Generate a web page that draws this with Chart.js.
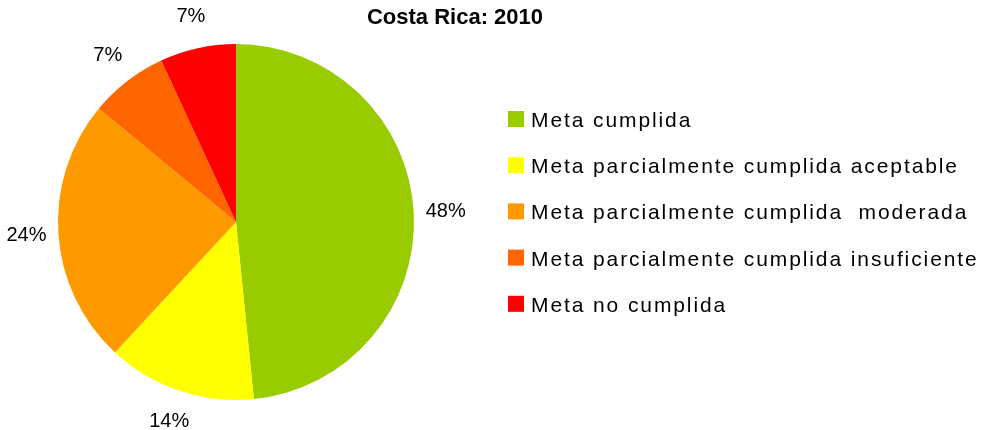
<!DOCTYPE html>
<html>
<head>
<meta charset="utf-8">
<script src="https://cdn.jsdelivr.net/npm/chart.js@4.4.1/dist/chart.umd.min.js"></script>
<style>
  html, body { margin: 0; padding: 0; background: #fff; }
  canvas { display: block; }
</style>
</head>
<body>
<canvas id="chart" width="985" height="430"></canvas>
<script>
const chartTitle = "Costa Rica: 2010";
const categories = [
  "Meta cumplida",
  "Meta parcialmente cumplida aceptable",
  "Meta parcialmente cumplida  moderada",
  "Meta parcialmente cumplida insuficiente",
  "Meta no cumplida",
];
const shares = [48.4, 13.5, 24.1, 7.1, 6.9];
const sliceColors = ["#99cc00", "#ffff00", "#ff9900", "#ff6600", "#ff0000"];

const FONT = "'Liberation Sans', Arial, sans-serif";

// title, outside percent labels and the letter-spaced legend
const decorations = {
  id: "decorations",
  afterDraw(chart) {
    const ctx = chart.ctx;
    const arcs = chart.getDatasetMeta(0).data;

    ctx.save();
    ctx.fillStyle = "#000";
    ctx.font = "bold 22px " + FONT;
    ctx.textAlign = "center";
    ctx.textBaseline = "alphabetic";
    ctx.fillText(chartTitle, 455, 24);

    ctx.font = "20px " + FONT;
    ctx.textBaseline = "middle";
    arcs.forEach((arc, i) => {
      const p = arc.getProps(["x", "y", "startAngle", "endAngle", "outerRadius"], true);
      const mid = (p.startAngle + p.endAngle) / 2;
      const r = p.outerRadius + 32;
      ctx.fillText(Math.round(shares[i]) + "%", p.x + Math.cos(mid) * r, p.y + Math.sin(mid) * r);
    });

    ctx.font = "21px " + FONT;
    ctx.textAlign = "left";
    ctx.textBaseline = "alphabetic";
    ctx.letterSpacing = "1.9px";
    categories.forEach((label, i) => {
      const cy = 119 + i * 46.2;
      ctx.fillStyle = sliceColors[i];
      ctx.fillRect(508, cy - 8, 16, 16);
      ctx.fillStyle = "#000";
      ctx.fillText(label, 531, cy + 8);
    });
    ctx.restore();
  },
};

new Chart(document.getElementById("chart"), {
  type: "pie",
  data: {
    labels: categories,
    datasets: [
      {
        data: shares,
        backgroundColor: sliceColors,
        borderWidth: 0,
      },
    ],
  },
  options: {
    responsive: false,
    animation: false,
    devicePixelRatio: 1,
    layout: {
      padding: { left: 58, right: 571, top: 44, bottom: 30 },
    },
    plugins: {
      legend: { display: false },
      title: { display: false },
      tooltip: { enabled: false },
    },
  },
  plugins: [decorations],
});
</script>
</body>
</html>
